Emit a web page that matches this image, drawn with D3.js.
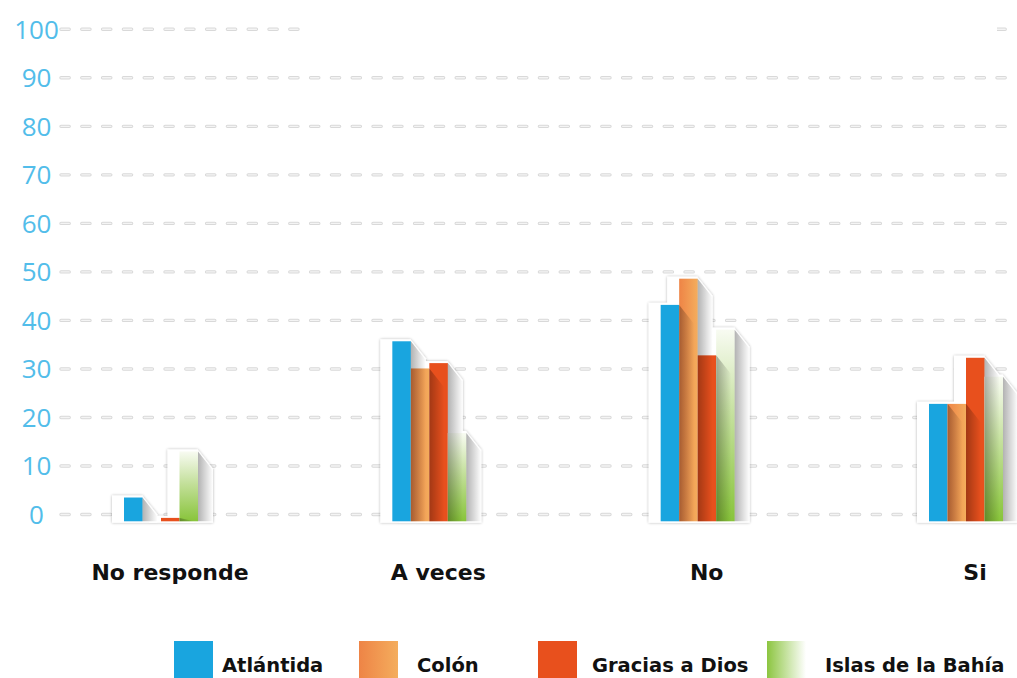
<!DOCTYPE html>
<html><head><meta charset="utf-8">
<script src="https://cdn.jsdelivr.net/npm/d3@7"></script>
<style>html,body{margin:0;padding:0;background:#fff;}svg{display:block;}</style>
</head><body>
<svg id="chart" width="1017" height="678"></svg>
<script>
// ---- data ----
const categories = ["No responde", "A veces", "No", "Si"];
const series = ["Atlántida", "Colón", "Gracias a Dios", "Islas de la Bahía"];
const atlantida = [3.5, 35.7, 43.2, 22.8];
const colon     = [null, 30.1, 48.6, 22.8];
const gracias   = [-0.7, 31.2, 32.8, 32.3];
const islas     = [13.0, 16.8, 38.1, 28.4];
const yTicks = [0, 10, 20, 30, 40, 50, 60, 70, 80, 90, 100];

const values = [atlantida, colon, gracias, islas];
const fills = ["#19a5df", "url(#gColon)", "#e8501d", "url(#gIslasV)"];
const legendFills = ["#19a5df", "url(#gColon)", "#e8501d", "url(#gIslasH)"];
const legendX = [174, 359, 538, 767];
const legendTextX = [222, 417, 592, 825];

const svg = d3.select("#chart");
const W = 1017;

// ---- scales ----
const y = d3.scaleLinear().domain([0, 100]).range([514.5, 29.3]);
const barBase = -1.4;
const x0 = d3.scalePoint().domain(categories).range([161, 966]);
const x1 = d3.scaleBand().domain(series).range([-37, 37]);
const bw = x1.bandwidth();

// ---- defs ----
const defs = svg.append("defs");
const gc = defs.append("linearGradient").attr("id", "gColon").attr("x1", 0).attr("x2", 1).attr("y1", 0).attr("y2", 0);
gc.append("stop").attr("offset", 0).attr("stop-color", "#ee8446");
gc.append("stop").attr("offset", 1).attr("stop-color", "#f4ad5d");
const giv = defs.append("linearGradient").attr("id", "gIslasV").attr("x1", 0).attr("x2", 0).attr("y1", 1).attr("y2", 0);
giv.append("stop").attr("offset", 0).attr("stop-color", "#88c43a");
giv.append("stop").attr("offset", 0.55).attr("stop-color", "#c4e09c");
giv.append("stop").attr("offset", 1).attr("stop-color", "#f8fbf2");
const gih = defs.append("linearGradient").attr("id", "gIslasH").attr("x1", 0).attr("x2", 1).attr("y1", 0).attr("y2", 0);
gih.append("stop").attr("offset", 0).attr("stop-color", "#8cc540");
gih.append("stop").attr("offset", 1).attr("stop-color", "#ffffff");
const gs = defs.append("linearGradient").attr("id", "gShadow").attr("x1", 0).attr("x2", 1).attr("y1", 0).attr("y2", 0);
gs.append("stop").attr("offset", 0).attr("stop-color", "#000").attr("stop-opacity", 0.3);
gs.append("stop").attr("offset", 1).attr("stop-color", "#000").attr("stop-opacity", 0);
const f = defs.append("filter").attr("id", "bd").attr("x", "-20%").attr("y", "-20%").attr("width", "140%").attr("height", "140%");
f.append("feGaussianBlur").attr("in", "SourceAlpha").attr("stdDeviation", 1.4).attr("result", "b");
f.append("feComponentTransfer").attr("in", "b").attr("result", "s")
  .append("feFuncA").attr("type", "linear").attr("slope", 0.3);
const fm = f.append("feMerge");
fm.append("feMergeNode").attr("in", "s");
fm.append("feMergeNode").attr("in", "SourceGraphic");

// ---- grid ----
const gridX0 = 61;
const grid = svg.append("g");
yTicks.forEach(t => {
  grid.append("line").attr("x1", gridX0).attr("x2", W).attr("y1", y(t)).attr("y2", y(t))
    .attr("stroke", "#d9d9d9").attr("stroke-width", 3.4).attr("stroke-linecap", "round")
    .attr("stroke-dasharray", "8.2 12.6");
  grid.append("line").attr("x1", gridX0).attr("x2", W).attr("y1", y(t)).attr("y2", y(t))
    .attr("stroke", "#f4f4f4").attr("stroke-width", 1.4).attr("stroke-linecap", "round")
    .attr("stroke-dasharray", "8.2 12.6");
});
// white box masking part of the top line
svg.append("rect").attr("x", 303).attr("y", y(100) - 10).attr("width", 694).attr("height", 20).attr("fill", "#fff");

// tick labels
svg.append("g").selectAll("text").data(yTicks).join("text")
  .attr("x", 36.5).attr("y", d => y(d) + 9.5)
  .attr("text-anchor", "middle")
  .attr("font-family", "'Open Sans', sans-serif").attr("font-weight", 400)
  .attr("font-size", 26).attr("fill", "#52bdea")
  .text(d => d);

// ---- bars ----
const sw = 15, sh = 19;
const bottom = y(barBase);
categories.forEach((cat, ci) => {
  const cx = x0(cat);
  const items = series.map((s, si) => ({ s, si, v: values[si][ci] })).filter(d => d.v !== null);
  items.forEach(d => { d.x = cx + x1(d.s); d.top = y(d.v); d.dh = Math.min(sh, bottom - d.top); });

  // backdrop
  const bg = svg.append("g").attr("filter", "url(#bd)");
  items.forEach(d => {
    bg.append("rect").attr("x", d.x - 12).attr("y", d.top - 2)
      .attr("width", bw + 12).attr("height", bottom + 1.5 - (d.top - 2)).attr("fill", "#fff");
    bg.append("polygon").attr("fill", "#fff").attr("points", [
      [d.x + bw - 0.5, d.top - 2], [d.x + bw + sw, d.top - 2 + d.dh],
      [d.x + bw + sw, bottom + 1.5], [d.x + bw - 0.5, bottom + 1.5]].map(p => p.join(",")).join(" "));
  });

  // bars
  svg.append("g").selectAll("rect").data(items).join("rect")
    .attr("x", d => d.x).attr("y", d => d.top)
    .attr("width", bw).attr("height", d => bottom - d.top)
    .attr("fill", d => fills[d.si]);

  // cast shadows
  svg.append("g").selectAll("polygon").data(items).join("polygon")
    .attr("fill", "url(#gShadow)")
    .attr("points", d => [[d.x + bw, d.top], [d.x + bw + sw, d.top + d.dh],
      [d.x + bw + sw, bottom], [d.x + bw, bottom]].map(p => p.join(",")).join(" "));

  // category label
  svg.append("text").attr("x", cx + 9).attr("y", 580).attr("text-anchor", "middle")
    .attr("font-family", "'DejaVu Sans', sans-serif").attr("font-weight", "bold")
    .attr("font-size", 22).attr("fill", "#111").text(cat);
});

// ---- legend ----
const lg = svg.append("g");
series.forEach((s, i) => {
  lg.append("rect").attr("x", legendX[i]).attr("y", 641).attr("width", 39).attr("height", 40)
    .attr("fill", legendFills[i]);
  lg.append("text").attr("x", legendTextX[i]).attr("y", 672)
    .attr("font-family", "'DejaVu Sans', sans-serif").attr("font-weight", "bold")
    .attr("font-size", 19.5).attr("fill", "#111").text(s);
});
</script>
</body></html>
